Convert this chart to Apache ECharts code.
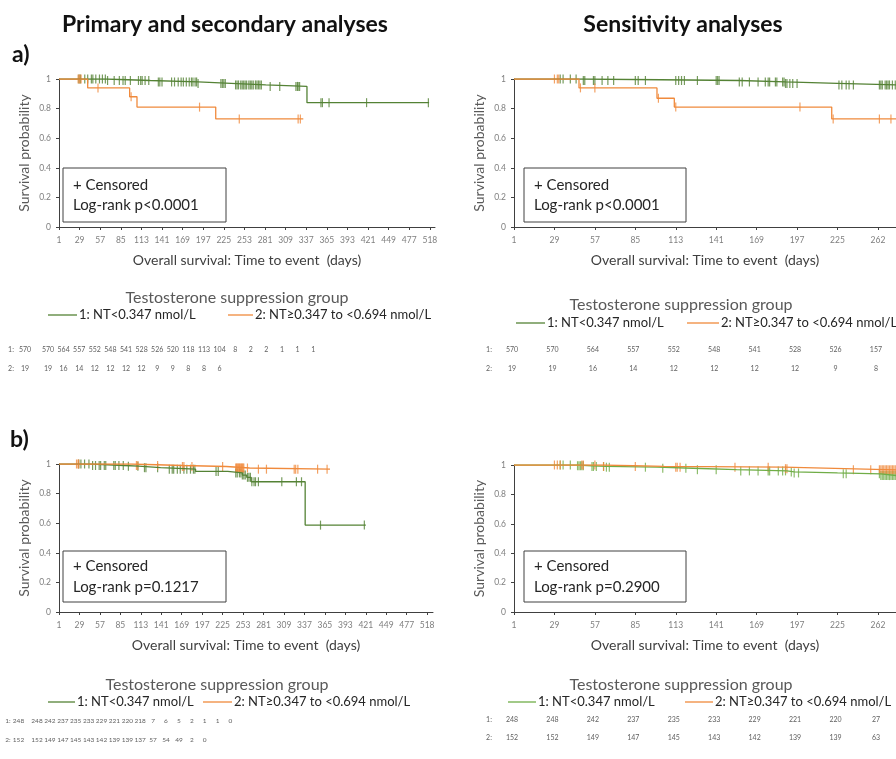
<!DOCTYPE html>
<html>
<head>
<meta charset="utf-8">
<title>Survival curves</title>
<script src="https://cdn.jsdelivr.net/npm/echarts@6/dist/echarts.min.js"></script>
<style>
  html, body { margin: 0; padding: 0; background: #fff; }
  #chart { width: 896px; height: 759px; }
</style>
</head>
<body>
<div id="chart"></div>
<script>
// tick labels (axis positions are day-1, every 28 days)
const longTicks = ['1','29','57','85','113','141','169','197','225','253','281','309','337','365','393','421','449','477','518'];
const shortTicks = ['1','29','57','85','113','141','169','197','225','262'];

const groupNames = ['1: NT<0.347 nmol/L', '2: NT≥0.347 to <0.694 nmol/L'];

// a) primary - [day, survival] at each event, plus last follow-up day
const priG = [[1,1],[65,0.99],[125,0.98],[190,0.97],[235,0.96],[282,0.95],[338,0.84]];
const priGEnd = 504;
const priGCens = [28,30,36,40,45,47,51,56,60,64,67,76,83,88,91,98,109,112,114,118,123,136,138,141,154,158,163,167,170,174,178,181,183,186,188,190,221,223,225,227,241,243,245,248,250,252,254,256,259,261,263,265,268,270,272,274,276,288,301,323,325,326,328,357,359,368,419,503];
const priO = [[1,1],[40,0.94],[97,0.88],[107,0.81],[214,0.73]];
const priOEnd = 333;
const priOCens = [27,29,31,54,99,192,246,326,329];

// a) sensitivity
const senG = [[1,1],[48,0.99],[157,0.98],[189,0.97],[225,0.96]];
const senGEnd = 266;
const senGCens = [33,35,40,44,49,50,56,57,62,66,70,85,87,92,113,115,117,119,128,141,142,143,157,159,164,170,175,177,178,182,183,187,188,189,190,192,194,197,226,228,231,233,236,254,255,256,258,259,260,261,263,265];
const senO = [[1,1],[46,0.94],[100,0.87],[112,0.81],[221,0.73]];
const senOEnd = 266;
const senOCens = [29,31,32,47,57,101,113,199,222,254,262];

// b) primary
const priBG = [[1,1],[45,0.99],[90,0.985],[110,0.975],[140,0.965],[188,0.95],[232,0.94],[252,0.925],[258,0.91],[264,0.88],[338,0.587]];
const priBGEnd = 421;
const priBGCens = [28,31,36,42,47,51,56,58,63,65,76,78,83,89,96,109,118,120,136,152,156,158,163,167,172,176,181,185,187,216,219,243,245,248,250,252,254,256,259,261,263,265,268,270,274,306,326,333,359,419];
const priBO = [[1,1],[100,0.99],[170,0.983],[230,0.973],[262,0.965]];
const priBOEnd = 372;
const priBOCens = [25,27,28,107,109,136,170,172,183,225,243,244,245,246,247,248,249,250,251,252,253,254,259,274,285,323,325,328,355,368];

// b) sensitivity
const senBG = [[1,1],[45,0.995],[55,0.99],[65,0.985],[100,0.978],[125,0.968],[155,0.96],[190,0.953],[195,0.946],[225,0.94],[255,0.928]];
const senBGEnd = 266;
const senBGCens = [33,35,40,45,46,47,48,49,55,56,58,63,65,67,92,104,120,128,141,158,164,170,177,178,184,187,189,193,195,198,229,231,254,255,256,257,258,259,260,261,262,263,264,265];
const senBO = [[1,1],[62,0.99],[105,0.985],[188,0.975],[230,0.967]];
const senBOEnd = 266;
const senBOCens = [29,31,33,48,49,57,63,85,113,114,116,154,177,189,190,236,248,254,255,256,257,258,259,260,261,262,263,264,265];

// numbers at risk
const riskA1 = [570,570,564,557,552,548,541,528,526,520,118,113,104,8,2,2,1,1,1];
const riskA2 = [19,19,16,14,12,12,12,12,9,9,8,8,6];
const riskSA1 = [570,570,564,557,552,548,541,528,526,157];
const riskSA2 = [19,19,16,14,12,12,12,12,9,8];
const riskB1 = [248,248,242,237,235,233,229,221,220,218,7,6,5,2,1,1,0];
const riskB2 = [152,152,149,147,145,143,142,139,139,137,57,54,49,2,0];
const riskSB1 = [248,248,242,237,235,233,229,221,220,27];
const riskSB2 = [152,152,149,147,145,143,142,139,139,63];

const GREEN = '#548235';
const GREEN_LIGHT = '#70AD47';
const ORANGE = '#F08A3C';
const FONT = 'Lato';

function survAt(steps, d) {
  let s = steps[0][1];
  steps.forEach(p => { if (p[0] <= d) s = p[1]; });
  return s;
}
function curve(steps, end) {
  const pts = steps.map(p => [p[0] - 1, p[1]]);
  pts.push([end - 1, steps[steps.length - 1][1]]);
  return pts;
}
function marks(steps, cens) {
  return cens.map(d => [d - 1, survAt(steps, d)]);
}

const grids = [
  { left: 59, top: 79, width: 376, height: 148 },
  { left: 514, top: 79, width: 382, height: 148 },
  { left: 59, top: 464, width: 374, height: 148 },
  { left: 514, top: 465, width: 382, height: 147 }
];
const xMax = [511, 264.5, 512, 264.5];
const tickSets = [longTicks, shortTicks, longTicks, shortTicks];

const xAxes = grids.map((g, i) => {
  const labels = tickSets[i];
  const vals = labels.map((l, k) => k * 28);
  return {
    type: 'value', gridIndex: i, min: 0, max: xMax[i],
    name: 'Overall survival: Time to event  (days)',
    nameLocation: 'middle', nameGap: 26,
    nameTextStyle: { fontFamily: FONT, fontSize: 14, color: '#404040' },
    axisLine: { show: true, lineStyle: { color: '#404040', width: 1 } },
    axisTick: { show: true, customValues: vals, length: 3, lineStyle: { color: '#404040' } },
    axisLabel: {
      customValues: vals, fontFamily: FONT, fontSize: 8.5, color: '#7f7f7f', margin: 9,
      formatter: v => labels[Math.round(v / 28)]
    },
    splitLine: { show: false }
  };
});

const yAxes = grids.map((g, i) => ({
  type: 'value', gridIndex: i, min: 0, max: 1, interval: 0.2,
  name: 'Survival probability', nameLocation: 'middle', nameGap: 28, nameRotate: 90,
  nameTextStyle: { fontFamily: FONT, fontSize: 14, color: '#595959' },
  axisLine: { show: true, lineStyle: { color: '#404040', width: 1 } },
  axisTick: { show: true, length: 3, lineStyle: { color: '#404040' } },
  axisLabel: { fontFamily: FONT, fontSize: 8.5, color: '#7f7f7f', margin: 8 },
  splitLine: { show: false }
}));

const panels = [
  [[priG, priGEnd, priGCens, GREEN], [priO, priOEnd, priOCens, ORANGE]],
  [[senG, senGEnd, senGCens, GREEN], [senO, senOEnd, senOCens, ORANGE]],
  [[priBG, priBGEnd, priBGCens, GREEN], [priBO, priBOEnd, priBOCens, ORANGE]],
  [[senBG, senBGEnd, senBGCens, GREEN_LIGHT], [senBO, senBOEnd, senBOCens, ORANGE]]
];

const series = [];
panels.forEach((groups, i) => {
  groups.forEach((grp, k) => {
    series.push({
      type: 'line', name: groupNames[k], xAxisIndex: i, yAxisIndex: i,
      step: 'end', showSymbol: false, silent: true,
      lineStyle: { color: grp[3], width: 1.3 },
      data: curve(grp[0], grp[1]), animation: false
    });
    series.push({
      type: 'scatter', xAxisIndex: i, yAxisIndex: i, silent: true,
      symbol: 'rect', symbolSize: [1.2, 9],
      itemStyle: { color: grp[3] },
      data: marks(grp[0], grp[2]), animation: false
    });
  });
});

const chart = echarts.init(document.getElementById('chart'), null, { renderer: 'canvas' });
chart.setOption({
  backgroundColor: '#fff',
  animation: false,
  grid: grids,
  xAxis: xAxes,
  yAxis: yAxes,
  series: series
});

// ---- text, boxes, legends, tables ----
const gfx = [];
function txt(x, y, text, font, fill, align) {
  gfx.push({ type: 'text', x: x, y: y, silent: true,
    style: { text: text, font: font, fill: fill, align: align || 'left', verticalAlign: 'middle' } });
}
function hline(x1, x2, y, color) {
  gfx.push({ type: 'line', silent: true, shape: { x1: x1, y1: y, x2: x2, y2: y },
    style: { stroke: color, lineWidth: 1.3 } });
}

txt(225, 25, 'Primary and secondary analyses', 'bold 23px ' + FONT, '#111', 'center');
txt(683, 25, 'Sensitivity analyses', 'bold 23px ' + FONT, '#111', 'center');
txt(12, 55, 'a)', 'bold 23px ' + FONT, '#111');
txt(10, 440, 'b)', 'bold 23px ' + FONT, '#111');

const boxes = [
  [63, 168, 163, 54, 'Log-rank p<0.0001'],
  [524, 168, 162, 54, 'Log-rank p<0.0001'],
  [63, 551, 163, 51, 'Log-rank p=0.1217'],
  [524, 551, 162, 51, 'Log-rank p=0.2900']
];
boxes.forEach(b => {
  gfx.push({ type: 'rect', silent: true, shape: { x: b[0], y: b[1], width: b[2], height: b[3] },
    style: { fill: '#fff', stroke: '#404040', lineWidth: 1 } });
  const gap = b[3] > 52 ? 20 : 21;
  txt(b[0] + 10, b[1] + b[3] / 2 - gap / 2, '+ Censored', '15px ' + FONT, '#262626');
  txt(b[0] + 10, b[1] + b[3] / 2 + gap / 2, b[4], '15px ' + FONT, '#262626');
});

// legends: [titleX, titleY, lineY, greenX1, greenX2, orangeX1, orangeX2, greenColor]
const legends = [
  [237, 298, 315, 48, 77, 228, 253, GREEN],
  [681, 305, 323, 516, 545, 687, 719, GREEN],
  [217, 685, 702, 48, 75, 203, 232, GREEN],
  [681, 685, 702, 508, 536, 685, 713, GREEN_LIGHT]
];
legends.forEach(l => {
  txt(l[0], l[1], 'Testosterone suppression group', '16px ' + FONT, '#595959', 'center');
  hline(l[3], l[4], l[2], l[7]);
  txt(l[4] + 2, l[2], groupNames[0], '13px ' + FONT, '#262626');
  hline(l[5], l[6], l[2], ORANGE);
  txt(l[6] + 2, l[2], groupNames[1], '13px ' + FONT, '#262626');
});

const riskFill = '#5f5f5f';
function riskRow(labelX, y, label, values, xs, size) {
  const font = size + 'px ' + FONT;
  txt(labelX, y, label, font, riskFill, 'center');
  values.forEach((v, k) => txt(xs[k], y, String(v), font, riskFill, 'center'));
}
// left tables are compressed, not aligned to the axis
const colsA = riskA1.map((v, k) => k === 0 ? 25 : 48 + (k - 1) * 15.6);
const colsB = riskB1.map((v, k) => k === 0 ? 18.5 : 37 + (k - 1) * 12.9);
// right tables sit under the axis ticks
const colsSA = riskSA1.map((v, k) => chart.convertToPixel({ xAxisIndex: 1 }, k * 28) - 2);
const colsSB = riskSB1.map((v, k) => chart.convertToPixel({ xAxisIndex: 3 }, k * 28) - 2);

riskRow(11, 350, '1:', riskA1, colsA, 7);
riskRow(11, 369, '2:', riskA2, colsA, 7);
riskRow(489, 350, '1:', riskSA1, colsSA, 7);
riskRow(489, 369, '2:', riskSA2, colsSA, 7);
riskRow(8, 721, '1:', riskB1, colsB, 6.5);
riskRow(8, 740, '2:', riskB2, colsB, 6.5);
riskRow(489, 720, '1:', riskSB1, colsSB, 7);
riskRow(489, 738, '2:', riskSB2, colsSB, 7);

chart.setOption({ graphic: { elements: gfx } });
</script>
</body>
</html>
